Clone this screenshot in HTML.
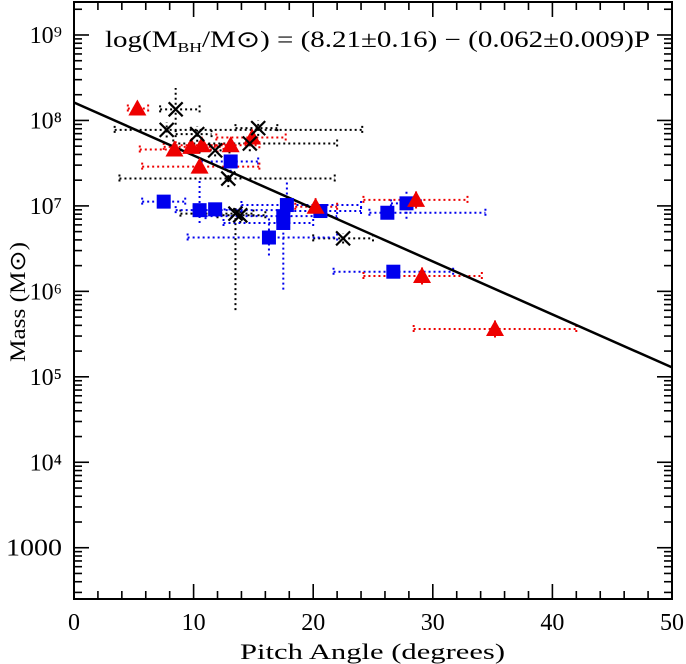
<!DOCTYPE html>
<html><head><meta charset="utf-8"><style>body{margin:0;background:#fff}svg{display:block}text{font-family:"Liberation Serif",serif;fill:#000}</style></head>
<body>
<svg id="chart" width="686" height="664" viewBox="0 0 686 664" xmlns="http://www.w3.org/2000/svg"></svg>
<script>
// Red triangles
const redP   = [5.3, 8.4, 9.8, 10.7, 10.5, 13.1, 14.9, 20.2, 28.6, 29.1, 35.2];
const redM   = [8.14, 7.66, 7.69, 7.71, 7.46, 7.71, 7.80, 6.99, 7.07, 6.18, 5.56];
const redPlo = [4.5, 5.5, 7.5, 8.5, 5.7, 10.5, 11.9, 18.5, 24.2, 24.2, 28.4];
const redPhi = [6.2, 12.0, 12.5, 13.0, 15.5, 15.5, 17.7, 22.0, 32.9, 34.1, 42.0];
const redMerr= [0.08, 0.08, 0.08, 0.08, 0.08, 0.08, 0.08, 0.1, 0.1, 0.1, 0.1];
// Black crosses
const blkP   = [8.5, 7.75, 10.3, 11.8, 15.4, 14.7, 12.9, 13.5, 13.9, 22.5];
const blkM   = [8.13, 7.89, 7.84, 7.65, 7.91, 7.73, 7.32, 6.91, 6.89, 6.62];
const blkPlo = [7.2, 3.4, 8.5, 10.5, 13.5, 8.3, 3.8, 8.9, 12.0, 20.0];
const blkPhi = [10.5, 24.1, 11.5, 13.0, 17.0, 22.0, 21.8, 15.0, 16.0, 25.0];
const blkMlo = [7.95, 7.8, 7.75, 7.58, 7.82, 7.64, 7.22, 5.78, 6.8, 6.56];
const blkMhi = [8.38, 7.98, 7.93, 7.72, 8.0, 7.82, 7.42, 7.0, 6.98, 6.68];
// Blue squares
const bluP   = [7.5, 10.5, 11.8, 13.1, 16.3, 17.5, 17.8, 17.5, 20.6, 26.2, 27.8, 26.7];
const bluM   = [7.05, 6.95, 6.96, 7.52, 6.63, 6.80, 7.01, 6.88, 6.94, 6.92, 7.03, 6.23];
const bluPlo = [5.7, 8.5, 10.0, 10.6, 9.5, 12.5, 14.0, 11.0, 18.0, 24.7, 26.5, 21.7];
const bluPhi = [9.3, 18.0, 14.0, 15.4, 22.0, 20.0, 24.0, 22.0, 24.0, 34.4, 29.0, 31.7];
const bluMlo = [6.98, 6.8, 6.9, 7.4, 6.42, 6.02, 6.9, 6.8, 6.88, 6.85, 6.85, 6.18];
const bluMhi = [7.12, 7.3, 7.02, 7.62, 6.88, 6.95, 7.3, 6.95, 7.0, 6.98, 7.2, 6.28];
const fitA = 8.21, fitB = 0.062;
const xTicks = [0, 10, 20, 30, 40, 50];
const yTicks = [3, 4, 5, 6, 7, 8, 9];
const yTickLabels = ["1000", "10⁴", "10⁵", "10⁶", "10⁷", "10⁸", "10⁹"];

const L=74,R=672,T=2,B=599;
const xMin=0,xMax=50,yMin=2.40,yMax=9.386;
const sx=v=>L+(v-xMin)/(xMax-xMin)*(R-L);
const sy=v=>B-(v-yMin)/(yMax-yMin)*(B-T);
const svg=document.getElementById('chart');
const NS='http://www.w3.org/2000/svg';
function mk(tag,attrs,parent){const e=document.createElementNS(NS,tag);for(const k in attrs)e.setAttribute(k,attrs[k]);(parent||svg).appendChild(e);return e;}

const ax=mk('g',{stroke:'#000','stroke-width':1.6});


for(let v=0;v<=50;v+=2){const x=sx(v);const len=v%10===0?15:8;
 mk('line',{x1:x,y1:B,x2:x,y2:B-len},ax);mk('line',{x1:x,y1:T,x2:x,y2:T+len},ax);}
for(let d=2;d<=9;d++){for(let m=1;m<10;m++){const v=d+Math.log10(m);if(v<yMin||v>yMax)continue;const y=sy(v);const len=m===1?15:8;
 mk('line',{x1:L,y1:y,x2:L+len,y2:y},ax);mk('line',{x1:R,y1:y,x2:R-len,y2:y},ax);}}
const fr=mk('rect',{x:L,y:T,width:R-L,height:B-T,fill:'none',stroke:'#000','stroke-width':2});



xTicks.forEach(v=>{const t=mk('text',{x:sx(v),y:630,'font-size':24,'text-anchor':'middle'});t.textContent=v;
 
 });
yTicks.forEach((v,i)=>{const t=mk('text',{x:62,y:sy(v)+8,'font-size':24,'text-anchor':'end'});t.textContent=yTickLabels[i];
 if(i===0){t.setAttribute('textLength','56');t.setAttribute('lengthAdjust','spacingAndGlyphs');}
 
 });

const xt=mk('text',{x:240,y:659,'font-size':22,textLength:265,lengthAdjust:'spacingAndGlyphs'});xt.textContent='Pitch Angle (degrees)';


const yt=mk('text',{x:0,y:0,'font-size':22,textLength:120,lengthAdjust:'spacingAndGlyphs',transform:'translate(25,362) rotate(-90)'});yt.textContent='Mass (M⊙)';


const eq=mk('text',{x:105,y:47,'font-size':23,textLength:545,lengthAdjust:'spacingAndGlyphs'});
eq.innerHTML='log(M<tspan font-size="14" dy="5">BH</tspan><tspan dy="-5">/M⊙) = (8.21±0.16) − (0.062±0.009)P</tspan>';



function errs(P,M,Plo,Phi,Mlo,Mhi,color,name){
 const g=mk('g',{stroke:color,'stroke-width':2,'stroke-dasharray':'2,3',fill:'none'});
 
 
 P.forEach((p,i)=>{const x=sx(p),y=sy(M[i]);
  mk('line',{x1:sx(Plo[i]),y1:y,x2:sx(Phi[i]),y2:y},g);
  mk('line',{x1:x,y1:sy(Mlo[i]),x2:x,y2:sy(Mhi[i])},g);
  [Plo[i],Phi[i]].forEach(q=>mk('line',{x1:sx(q),y1:y-4,x2:sx(q),y2:y+4},g));});
}
errs(blkP,blkM,blkPlo,blkPhi,blkMlo,blkMhi,'#000','black');
errs(bluP,bluM,bluPlo,bluPhi,bluMlo,bluMhi,'#0000ee','blue');
errs(redP,redM,redPlo,redPhi,redM.map((m,i)=>m-redMerr[i]),redM.map((m,i)=>m+redMerr[i]),'#ee0000','red');

const fl=mk('line',{x1:sx(0),y1:sy(fitA),x2:sx(50),y2:sy(fitA-fitB*50),stroke:'#000','stroke-width':2.5});



bluP.forEach((p,i)=>{const x=sx(p),y=sy(bluM[i]);
 const r=mk('rect',{x:x-7,y:y-7,width:14,height:14,fill:'#0000ee'});
 
 });
redP.forEach((p,i)=>{const x=sx(p),y=sy(redM[i]);
 const t=mk('polygon',{points:`${x},${y-9} ${x-9},${y+7} ${x+9},${y+7}`,fill:'#ee0000'});
 
 });
blkP.forEach((p,i)=>{const x=sx(p),y=sy(blkM[i]);
 const c=mk('path',{d:`M${x-7},${y-7}L${x+7},${y+7}M${x-7},${y+7}L${x+7},${y-7}`,stroke:'#000','stroke-width':2.2,fill:'none'});
 
 });
</script>
</body></html>
